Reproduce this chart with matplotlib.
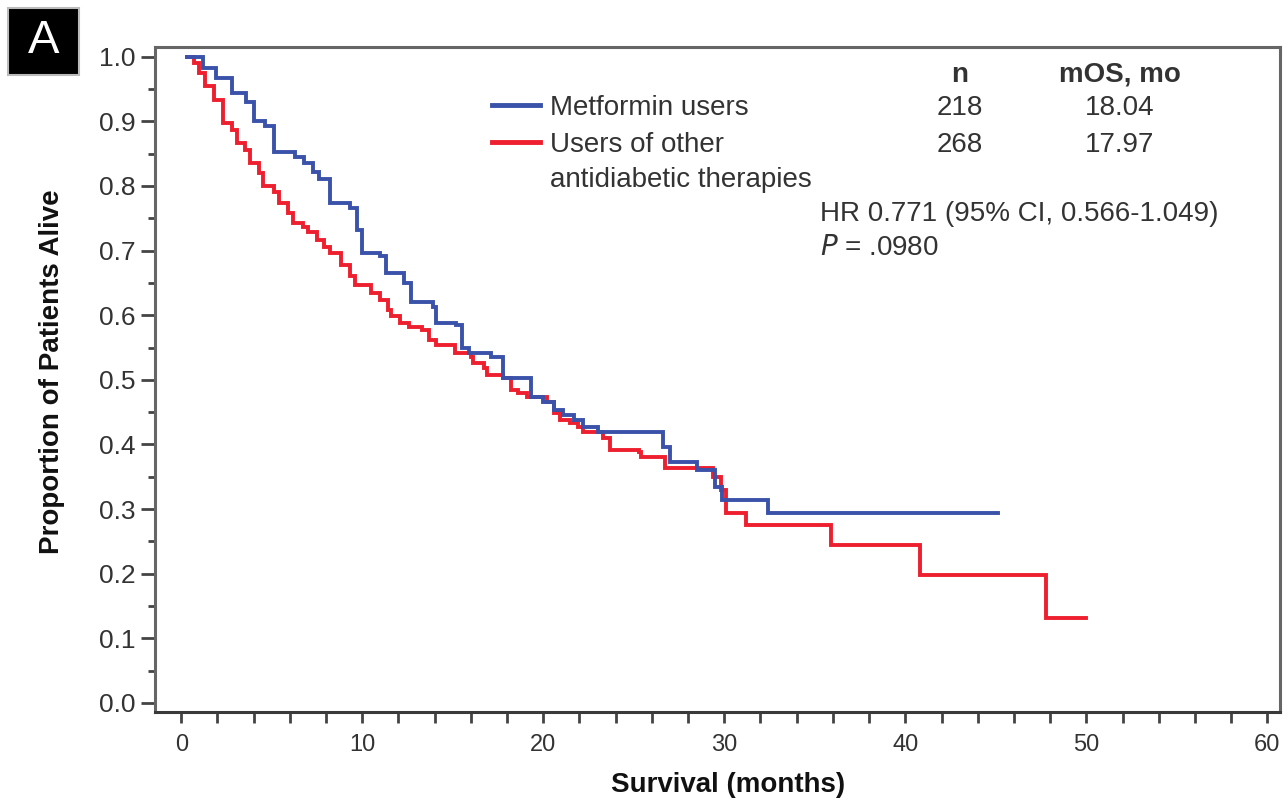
import matplotlib
matplotlib.use("Agg")
import matplotlib.pyplot as plt
from matplotlib.ticker import MultipleLocator, FixedLocator

plt.rcParams['font.family'] = ['Liberation Sans', 'DejaVu Sans']

# ---- data ----
met_time = [0.3, 1.2, 1.9, 2.8, 3.6, 4.0, 4.6, 5.1, 6.3, 6.8, 7.3, 7.6, 8.2, 9.3, 9.7,
            10.0, 11.0, 11.3, 12.3, 12.7, 13.9, 14.1, 15.2, 15.5, 15.9, 17.1, 17.8,
            19.3, 20.0, 20.6, 21.1, 21.7, 22.2, 23.0, 26.6, 27.0, 28.5, 29.5, 29.9,
            32.4, 45.1]
met_surv = [1.0, 0.983, 0.967, 0.944, 0.93, 0.90, 0.893, 0.853, 0.845, 0.836, 0.822,
            0.81, 0.774, 0.766, 0.732, 0.697, 0.692, 0.666, 0.65, 0.62, 0.613, 0.588,
            0.585, 0.55, 0.542, 0.536, 0.503, 0.474, 0.466, 0.454, 0.446, 0.438,
            0.427, 0.419, 0.396, 0.373, 0.361, 0.334, 0.314, 0.294, 0.294]

oth_time = [0.3, 0.7, 1.0, 1.3, 1.8, 2.3, 2.8, 3.1, 3.5, 3.8, 4.3, 4.5, 5.1, 5.4, 5.9,
            6.2, 6.7, 7.0, 7.5, 7.9, 8.2, 8.8, 9.3, 9.6, 10.5, 11.0, 11.4, 11.6, 12.1,
            12.6, 13.3, 13.7, 14.1, 15.1, 16.0, 16.1, 16.7, 16.9, 17.8, 18.2, 18.6,
            19.1, 20.2, 20.6, 20.9, 21.5, 21.9, 22.2, 23.3, 23.7, 25.3, 25.4, 26.7,
            29.4, 29.8, 30.1, 31.2, 35.9, 40.8, 47.8, 50.0]
oth_surv = [1.0, 0.99, 0.975, 0.954, 0.933, 0.898, 0.887, 0.867, 0.856, 0.836, 0.82,
            0.80, 0.79, 0.774, 0.758, 0.743, 0.737, 0.728, 0.717, 0.706, 0.697, 0.678,
            0.66, 0.647, 0.635, 0.624, 0.608, 0.598, 0.588, 0.582, 0.577, 0.562,
            0.554, 0.542, 0.536, 0.526, 0.519, 0.508, 0.503, 0.485, 0.48, 0.474,
            0.466, 0.449, 0.438, 0.433, 0.427, 0.419, 0.41, 0.392, 0.389, 0.381,
            0.364, 0.35, 0.33, 0.294, 0.276, 0.245, 0.198, 0.132, 0.132]

group_labels = ["Metformin users", "Users of other\nantidiabetic therapies"]
group_n = ["218", "268"]
group_mos = ["18.04", "17.97"]
hr_text = "HR 0.771 (95% CI, 0.566-1.049)"
p_value = ".0980"

x_ticks = [0, 10, 20, 30, 40, 50, 60]
y_ticks = [0.0, 0.1, 0.2, 0.3, 0.4, 0.5, 0.6, 0.7, 0.8, 0.9, 1.0]

BLUE = "#3a52aa"
RED = "#ee1f2e"
TXT = "#333333"

fig = plt.figure(figsize=(12.88, 8.0), dpi=100)
ax = fig.add_axes([155/1288, 88/800, (1280-155)/1288, (712-47)/800])

ax.step(oth_time, oth_surv, where='post', color=RED, lw=2.8, solid_joinstyle='miter', zorder=2)
ax.step(met_time, met_surv, where='post', color=BLUE, lw=2.8, solid_joinstyle='miter', zorder=3)

ax.set_xlim(-1.45, 60.7)
ax.set_ylim(-0.014, 1.015)

ax.xaxis.set_major_locator(FixedLocator(x_ticks))
ax.xaxis.set_minor_locator(MultipleLocator(2))
ax.yaxis.set_major_locator(FixedLocator(y_ticks))
ax.yaxis.set_minor_locator(MultipleLocator(0.05))
ax.set_xticklabels([str(v) for v in x_ticks])
ax.set_yticklabels([f"{v:.1f}" for v in y_ticks])

ax.tick_params(axis='both', which='both', direction='out', colors='#444444',
               labelcolor=TXT, width=2)
ax.tick_params(axis='y', which='major', length=10, pad=4, labelsize=19)
ax.tick_params(axis='y', which='minor', length=5)
ax.tick_params(axis='x', which='both', length=8, pad=8, labelsize=17)

for side, sp in ax.spines.items():
    sp.set_linewidth(2.2)
    sp.set_color('#666666')
ax.spines['bottom'].set_color('#3a3a3a')

ax.set_xlabel("Survival (months)", fontsize=20, fontweight='bold', color='#111111')
ax.xaxis.label.set_va('center')
ax.xaxis.set_label_coords((728 - 155) / 1125, (712 - 785) / 665)
ax.set_ylabel("Proportion of Patients Alive", fontsize=20, fontweight='bold', color='#111111')
ax.yaxis.label.set_va('center')
ax.yaxis.set_label_coords((52 - 155) / 1125, (712 - 372) / 665)

def fx(px):
    return px / 1288
def fy(py):
    return 1 - py / 800

fs = 20
fig.text(fx(960), fy(75), "n", ha='center', va='center', fontsize=fs, fontweight='bold', color=TXT)
fig.text(fx(1120), fy(75), "mOS, mo", ha='center', va='center', fontsize=fs, fontweight='bold', color=TXT)

rows_y = [108, 145]
colors = [BLUE, RED]
for i in range(2):
    fig.add_artist(plt.Line2D([fx(492), fx(540)], [fy(rows_y[i] - 3), fy(rows_y[i] - 3)],
                              color=colors[i], lw=3.5, transform=fig.transFigure))
    fig.text(fx(960), fy(rows_y[i]), group_n[i], ha='center', va='center', fontsize=fs, color=TXT)
    fig.text(fx(1120), fy(rows_y[i]), group_mos[i], ha='center', va='center', fontsize=fs, color=TXT)

fig.text(fx(550), fy(108), group_labels[0], ha='left', va='center', fontsize=fs, color=TXT)
fig.text(fx(550), fy(145), group_labels[1].split("\n")[0], ha='left', va='center', fontsize=fs, color=TXT)
fig.text(fx(550), fy(180), group_labels[1].split("\n")[1], ha='left', va='center', fontsize=fs, color=TXT)

fig.text(fx(820), fy(214), hr_text, ha='left', va='center', fontsize=fs, color=TXT)
fig.text(fx(820), fy(248), r"$\it{P}$" + " = " + p_value, ha='left', va='center', fontsize=fs, color=TXT)

# panel label
fig.patches.append(plt.Rectangle((fx(8), fy(75)), fx(79) - fx(8), fy(8) - fy(75),
                                 transform=fig.transFigure, facecolor='black',
                                 edgecolor='#bbbbbb', lw=1.5))
fig.text(fx(44), fy(41), "A", ha='center', va='center', fontsize=34, color='white')

fig.savefig("out.png", dpi=100)
